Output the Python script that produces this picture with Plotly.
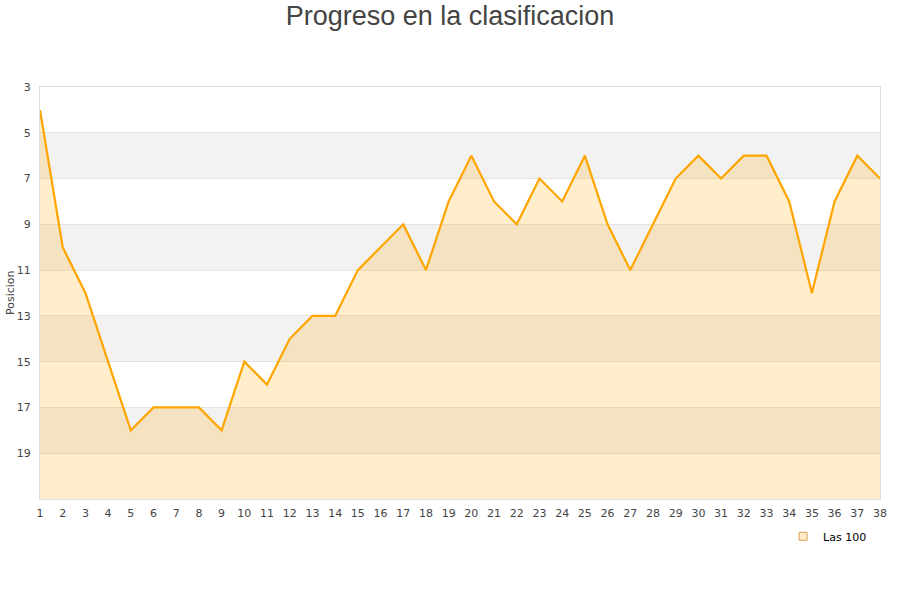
import plotly.graph_objects as go

jornadas = list(range(1, 39))
posiciones = [4, 10, 12, 15, 18, 17, 17, 17, 18, 15, 16, 14, 13, 13, 11, 10, 9, 11, 8, 6,
              8, 9, 7, 8, 6, 9, 11, 9, 7, 6, 7, 6, 6, 8, 12, 8, 6, 7]
y_ticks = [3, 5, 7, 9, 11, 13, 15, 17, 19]
bandas_grises = [(5, 7), (9, 11), (13, 15), (17, 19)]
fondo = 21
serie = "Las 100"

fig = go.Figure()
fig.add_trace(go.Scatter(x=jornadas, y=[fondo] * len(jornadas), mode="lines",
                         line=dict(width=0), showlegend=False, hoverinfo="skip"))
fig.add_trace(go.Scatter(x=jornadas, y=posiciones, mode="lines", name=serie,
                         line=dict(color="#FFA500", width=2.2),
                         fill="tonexty", fillcolor="rgba(255,165,0,0.2)",
                         showlegend=False))
# legend marker proxy
fig.add_trace(go.Scatter(x=[None], y=[None], mode="markers", name=serie,
                         marker=dict(symbol="square", size=8, color="#FEEBC8",
                                     line=dict(color="#D9A050", width=1)),
                         showlegend=True))

for a, b in bandas_grises:
    fig.add_shape(type="rect", xref="paper", yref="y", x0=0, x1=1, y0=a, y1=b,
                  fillcolor="#F2F2F2", line=dict(width=0), layer="below")

fig.add_annotation(text="Posicion", xref="paper", yref="paper", x=-0.0357, y=0.5,
                   textangle=-90, showarrow=False, xanchor="center", yanchor="middle",
                   font=dict(size=11, color="#444444"))

fig.update_layout(
    width=900, height=600,
    paper_bgcolor="white", plot_bgcolor="white",
    margin=dict(l=40, r=20, t=87, b=101, autoexpand=False),
    title=dict(text="Progreso en la clasificacion", x=0.5, xanchor="center", y=1 - 16 / 600,
               yanchor="middle",
               font=dict(family="Liberation Sans, Arial", size=27, color="#444444")),
    font=dict(family="DejaVu Sans, Verdana, sans-serif", size=11, color="#444444"),
    xaxis=dict(range=[1, 38], tickmode="array", tickvals=jornadas, ticks="", showgrid=False,
               zeroline=False, showline=True, linecolor="#DDDDDD", mirror=True, automargin=False,
               ticklabelstandoff=4,
               tickfont=dict(size=11, color="#444444")),
    yaxis=dict(range=[fondo, 3], tickmode="array", tickvals=y_ticks, ticks="",
               showgrid=True, gridcolor="#E3E3E3", zeroline=False, showline=True,
               linecolor="#DDDDDD", mirror=True, automargin=False,
               ticklabelstandoff=6,
               tickfont=dict(size=11, color="#444444")),
    legend=dict(x=0.8846, xanchor="left", y=-0.0553, yanchor="top", orientation="h",
                itemwidth=30, font=dict(size=11, color="#000000"), bgcolor="rgba(0,0,0,0)"),
    showlegend=True,
)

fig.write_html("out.html", config={"displayModeBar": False},
               post_script="document.body.style.margin='0';")
